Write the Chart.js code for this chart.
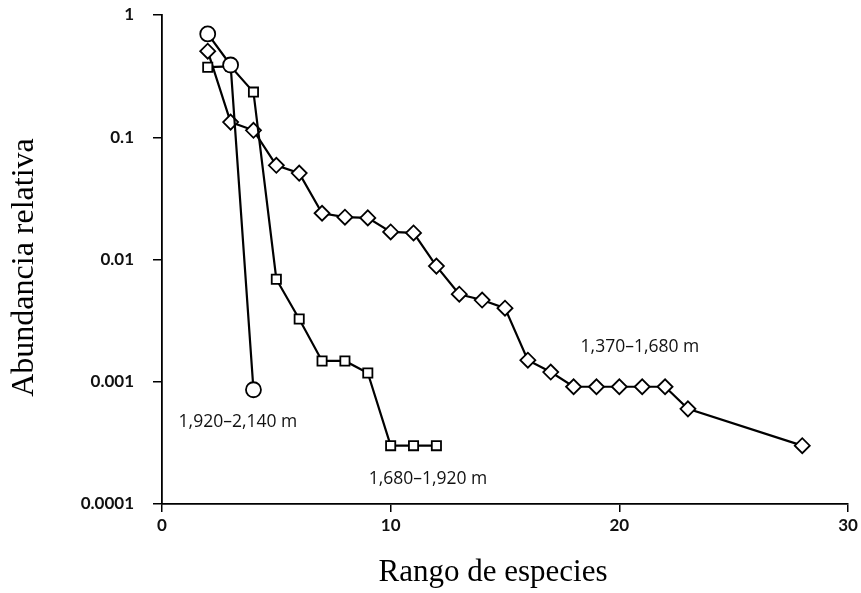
<!DOCTYPE html>
<html>
<head>
<meta charset="utf-8">
<script src="https://cdn.jsdelivr.net/npm/chart.js@4/dist/chart.umd.min.js"></script>
<style>
  html, body { margin: 0; padding: 0; background: #fff; }
  #wrap { width: 861px; height: 593px; }
</style>
</head>
<body>
<div id="wrap"><canvas id="c" width="861" height="593"></canvas></div>
<script>
// ---- data ----
const rankCircle = [2, 3, 4];
const abundCircle = [0.70, 0.39, 0.00086];

const rankSquare = [2, 3, 4, 5, 6, 7, 8, 9, 10, 11, 12];
const abundSquare = [0.374, 0.38, 0.234, 0.0069, 0.00326, 0.00148, 0.00148, 0.00118, 0.0003, 0.0003, 0.0003];

const rankDiamond = [2, 3, 4, 5, 6, 7, 8, 9, 10, 11, 12, 13, 14, 15, 16, 17, 18, 19, 20, 21, 22, 23, 28];
const abundDiamond = [0.506, 0.133, 0.114, 0.059, 0.0509, 0.0239, 0.0222, 0.0219, 0.0168, 0.0165, 0.00883, 0.0052, 0.00466, 0.0040, 0.0015, 0.0012, 0.00091, 0.00091, 0.00091, 0.00091, 0.00091, 0.0006, 0.0003];

const seriesNames = ['1,920–2,140 m', '1,680–1,920 m', '1,370–1,680 m'];
const labelRank = [3.32, 11.63, 20.9];
const labelAbund = [0.00047, 0.00016, 0.00192];

const xTitle = 'Rango de especies';
const yTitle = 'Abundancia relativa';

const yTickValues = [0.0001, 0.001, 0.01, 0.1, 1];
const yTickLabels = ['0.0001', '0.001', '0.01', '0.1', '1'];
const xTickValues = [0, 10, 20, 30];

const toPts = (xs, ys) => xs.map((x, i) => ({ x: x, y: ys[i] }));

const labelPlugin = {
  id: 'seriesLabels',
  afterDatasetsDraw(chart) {
    const { ctx, scales, chartArea } = chart;
    ctx.save();
    ctx.fillStyle = '#111';
    ctx.font = '17.5px "Open Sans", "Noto Sans", sans-serif';
    ctx.textAlign = 'center';
    ctx.textBaseline = 'middle';
    seriesNames.forEach((t, i) => {
      ctx.fillText(t, scales.x.getPixelForValue(labelRank[i]), scales.y.getPixelForValue(labelAbund[i]));
    });
    // axis titles
    ctx.fillStyle = '#000';
    ctx.font = '31px "Liberation Serif", "Times New Roman", serif';
    ctx.fillText(xTitle, (chartArea.left + chartArea.right) / 2 - 12, chart.height - 20);
    ctx.translate(25, (chartArea.top + chartArea.bottom) / 2 + 8);
    ctx.rotate(-Math.PI / 2);
    ctx.font = '32px "Liberation Serif", "Times New Roman", serif';
    ctx.fillText(yTitle, 0, 0);
    ctx.restore();
  }
};

const common = {
  borderColor: '#000',
  backgroundColor: '#fff',
  pointBackgroundColor: '#fff',
  pointBorderColor: '#000',
  pointBorderWidth: 1.8,
  borderWidth: 2.2,
  tension: 0,
  fill: false
};

const tickFont = { family: 'Lato, "Open Sans", sans-serif', size: 17, weight: 'bold' };

new Chart(document.getElementById('c'), {
  type: 'line',
  data: {
    datasets: [
      Object.assign({}, common, { label: seriesNames[0], data: toPts(rankCircle, abundCircle), pointStyle: 'circle', pointRadius: 7.5 }),
      Object.assign({}, common, { label: seriesNames[1], data: toPts(rankSquare, abundSquare), pointStyle: 'rect', pointRadius: 6.5 }),
      Object.assign({}, common, { label: seriesNames[2], data: toPts(rankDiamond, abundDiamond), pointStyle: 'rectRot', pointRadius: 7.5 })
    ]
  },
  options: {
    responsive: false,
    animation: false,
    devicePixelRatio: 1,
    layout: { padding: { left: 0, top: 15, right: 13, bottom: 0 } },
    plugins: { legend: { display: false }, tooltip: { enabled: false } },
    scales: {
      x: {
        type: 'linear',
        min: 0, max: 30,
        afterFit(s) { s.height = 89; s.paddingLeft = 0; s.paddingRight = 0; },
        afterBuildTicks(s) { s.ticks = xTickValues.map(v => ({ value: v })); },
        grid: { drawOnChartArea: false, drawTicks: true, tickLength: 8, color: '#000', lineWidth: 1.5 },
        border: { display: true, color: '#000', width: 1.8 },
        ticks: { color: '#111', padding: 3, font: tickFont, maxRotation: 0 },
        title: { display: false }
      },
      y: {
        type: 'logarithmic',
        min: 0.0001, max: 1,
        afterFit(s) { s.width = 162; s.paddingTop = 0; s.paddingBottom = 0; },
        afterBuildTicks(s) { s.ticks = yTickValues.map(v => ({ value: v })); },
        grid: { drawOnChartArea: false, drawTicks: true, tickLength: 9, color: '#000', lineWidth: 1.5 },
        border: { display: true, color: '#000', width: 1.8 },
        ticks: {
          color: '#111', padding: 19,
          font: tickFont,
          callback(v) { const i = yTickValues.indexOf(v); return i >= 0 ? yTickLabels[i] : ''; }
        },
        title: { display: false }
      }
    }
  },
  plugins: [labelPlugin]
});
</script>
</body>
</html>
